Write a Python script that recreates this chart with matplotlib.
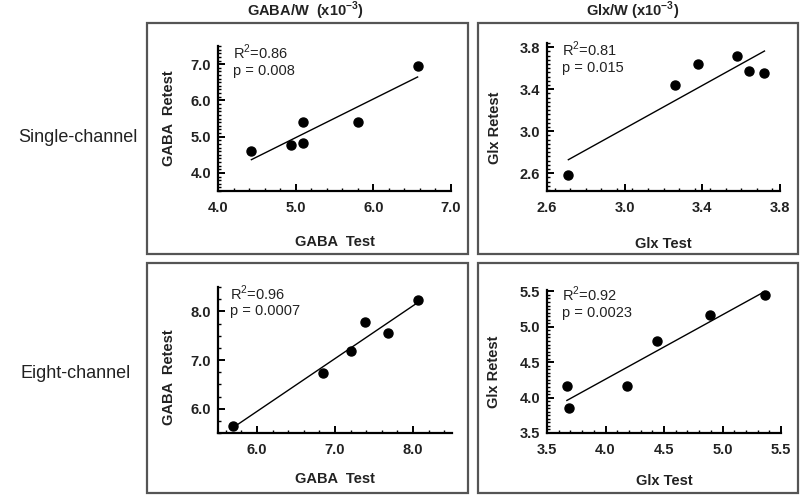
import numpy as np
import matplotlib
matplotlib.use("Agg")
import matplotlib.pyplot as plt
from matplotlib.patches import Rectangle
from matplotlib.ticker import MultipleLocator

plt.rcParams["font.family"] = ["Liberation Sans", "DejaVu Sans"]
plt.rcParams["mathtext.fontset"] = "custom"
plt.rcParams["mathtext.rm"] = "Liberation Sans"
plt.rcParams["mathtext.bf"] = "Liberation Sans:bold"

# single-channel
gaba_single_test = [4.43, 4.94, 5.10, 5.10, 5.80, 6.57]
gaba_single_retest = [4.59, 4.77, 5.39, 4.82, 5.39, 6.94]
glx_single_test = [2.71, 3.26, 3.38, 3.58, 3.64, 3.72]
glx_single_retest = [2.58, 3.44, 3.64, 3.72, 3.57, 3.55]

# eight-channel
gaba_eight_test = [5.69, 6.85, 7.20, 7.39, 7.68, 8.07]
gaba_eight_retest = [5.64, 6.73, 7.19, 7.78, 7.55, 8.24]
glx_eight_test = [3.67, 3.69, 4.18, 4.44, 4.89, 5.36]
glx_eight_retest = [4.16, 3.86, 4.16, 4.80, 5.16, 5.45]

# tick values
gaba_single_xticks = [4.0, 5.0, 6.0, 7.0]
gaba_single_yticks = [4.0, 5.0, 6.0, 7.0]
glx_single_xticks = [2.6, 3.0, 3.4, 3.8]
glx_single_yticks = [2.6, 3.0, 3.4, 3.8]
gaba_eight_xticks = [6.0, 7.0, 8.0]
gaba_eight_yticks = [6.0, 7.0, 8.0]
glx_eight_xticks = [3.5, 4.0, 4.5, 5.0, 5.5]
glx_eight_yticks = [3.5, 4.0, 4.5, 5.0, 5.5]

stats = ["R$^2$=0.86\np = 0.008", "R$^2$=0.81\np = 0.015",
         "R$^2$=0.96\np = 0.0007", "R$^2$=0.92\np = 0.0023"]
col_titles = [r"GABA/W  (x10$^{\mathbf{-3}}$)", r"Glx/W (x10$^{\mathbf{-3}}$)"]
row_titles = ["Single-channel", "Eight-channel"]

W, H = 800, 495
fig = plt.figure(figsize=(8, 4.95), dpi=100)


def px_axes(x0, x1, ytop, ybot):
    return fig.add_axes([x0 / W, 1 - ybot / H, (x1 - x0) / W, (ybot - ytop) / H])


# panel boxes
for (x0, x1, y0, y1) in [(147, 468, 23, 254), (478, 798, 23, 254),
                         (147, 468, 263, 493), (478, 798, 263, 493)]:
    fig.patches.append(Rectangle((x0 / W, 1 - y1 / H), (x1 - x0) / W, (y1 - y0) / H,
                                 transform=fig.transFigure, fill=False,
                                 edgecolor="#555555", lw=1.6))

panels = [
    dict(pos=(218, 451, 46, 191), x=gaba_single_test, y=gaba_single_retest,
         xlim=(4.0, 7.0), ylim=(3.5, 7.5), xt=gaba_single_xticks, yt=gaba_single_yticks,
         xm=0.2, ym=0.1,
         xl="GABA  Test", yl="GABA  Retest", xlc=-0.30, ylc=(-0.18, 0.5), st=(0.064, 0.90)),
    dict(pos=(547, 780, 43, 191), x=glx_single_test, y=glx_single_retest,
         xlim=(2.6, 3.8), ylim=(2.43, 3.84), xt=glx_single_xticks, yt=glx_single_yticks,
         xm=0.08, ym=0.04,
         xl="Glx Test", yl="Glx Retest", xlc=-0.31, ylc=(-0.195, 0.43), st=(0.064, 0.905)),
    dict(pos=(218, 452, 287, 433), x=gaba_eight_test, y=gaba_eight_retest,
         xlim=(5.5, 8.5), ylim=(5.5, 8.5), xt=gaba_eight_xticks, yt=gaba_eight_yticks,
         xm=0.2, ym=0.25,
         xl="GABA  Test", yl="GABA  Retest", xlc=-0.27, ylc=(-0.18, 0.38), st=(0.05, 0.905)),
    dict(pos=(547, 781, 290, 433), x=glx_eight_test, y=glx_eight_retest,
         xlim=(3.5, 5.5), ylim=(3.5, 5.52), xt=glx_eight_xticks, yt=glx_eight_yticks,
         xm=0.1, ym=0.05,
         xl="Glx Test", yl="Glx Retest", xlc=-0.29, ylc=(-0.195, 0.43), st=(0.064, 0.915)),
]

for p, s in zip(panels, stats):
    ax = px_axes(*p["pos"])
    x = np.array(p["x"])
    y = np.array(p["y"])
    k, b = np.polyfit(x, y, 1)
    xs = np.array([x.min(), x.max()])
    ax.plot(xs, k * xs + b, color="black", lw=1.0)
    ax.plot(x, y, "o", color="black", ms=6.5)
    ax.set_xlim(*p["xlim"])
    ax.set_ylim(*p["ylim"])
    ax.set_xticks(p["xt"])
    ax.set_yticks(p["yt"])
    ax.set_xticklabels(["%.1f" % v for v in p["xt"]])
    ax.set_yticklabels(["%.1f" % v for v in p["yt"]])
    ax.xaxis.set_minor_locator(MultipleLocator(p["xm"]))
    ax.yaxis.set_minor_locator(MultipleLocator(p["ym"]))
    for sp in ["top", "right"]:
        ax.spines[sp].set_visible(False)
    for sp in ["left", "bottom"]:
        ax.spines[sp].set_linewidth(1.6)
    ax.tick_params(which="major", direction="in", length=5, width=1.4)
    ax.tick_params(which="minor", direction="in", length=2.5, width=1.0)
    ax.tick_params(axis="x", pad=7)
    ax.tick_params(axis="y", pad=5)
    for lab in ax.get_xticklabels() + ax.get_yticklabels():
        lab.set_fontsize(10.5)
        lab.set_fontweight("bold")
        lab.set_color("#222222")
    ax.set_xlabel(p["xl"], fontsize=10.5, fontweight="bold", color="#222222")
    ax.set_ylabel(p["yl"], fontsize=10.5, fontweight="bold", color="#222222")
    ax.xaxis.set_label_coords(0.5, p["xlc"])
    ax.yaxis.set_label_coords(*p["ylc"])
    ax.text(p["st"][0], p["st"][1], s, transform=ax.transAxes, ha="left", va="center",
            fontsize=10.5, color="#222222", linespacing=1.15)
    ax.patch.set_alpha(0)

fig.text(305 / W, 1 - 11 / H, col_titles[0], ha="center", va="center",
         fontsize=10.5, fontweight="bold", color="#222222")
fig.text(633 / W, 1 - 11 / H, col_titles[1], ha="center", va="center",
         fontsize=10.5, fontweight="bold", color="#222222")
fig.text(78 / W, 1 - 137 / H, row_titles[0], ha="center", va="center",
         fontsize=13, color="#222222")
fig.text(76 / W, 1 - 373 / H, row_titles[1], ha="center", va="center",
         fontsize=13, color="#222222")

fig.savefig("out.png", dpi=100)
